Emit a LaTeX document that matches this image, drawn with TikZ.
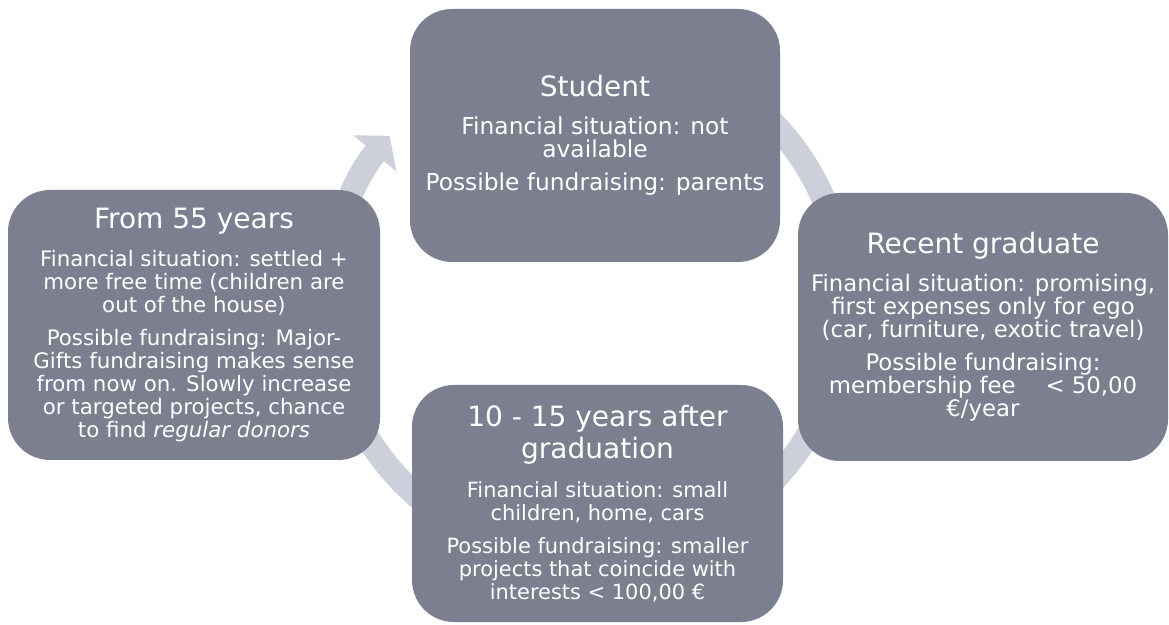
\documentclass[tikz,border=0pt]{standalone}
\usepackage{fontspec}
\setmainfont{DejaVu Sans}
\usetikzlibrary{arrows.meta}
\definecolor{boxgray}{RGB}{123,127,144}
\definecolor{ringgray}{RGB}{205,208,218}
\newcommand{\titlesize}{\fontsize{21}{24}\selectfont}
\newcommand{\bodysize}[1]{\fontsize{#1}{17.25}\selectfont\lineskiplimit=-20pt\lineskip=0pt}

\begin{document}
\begin{tikzpicture}[x=0.75pt,y=0.75pt,
	stage/.style={rectangle, rounded corners=31.5pt, fill=boxgray, text=white, align=center, inner sep=0pt},
	ring/.style={draw=ringgray, line width=18pt, -{Triangle[length=17.25pt, width=41.25pt]}}]
		\useasboundingbox (0,0) rectangle (1169,624);
		\coordinate (hub) at (587,322);
		
		\draw[ring] (hub) ++(60:258) arc[start angle=60, end angle=-220.1, radius=258];
		
		\node[stage, minimum width=277.5pt, minimum height=189.75pt, font=\bodysize{17.5}] (student) at (595,488.5)
		{{\titlesize Student}\\[11.5pt] Financial situation: not\\ available\\[7.5pt] Possible fundraising: parents};
		\node[stage, minimum width=277.5pt, minimum height=201pt, font=\bodysize{17.1}] (recent) at (983,297)
		{{\titlesize Recent graduate}\\[11.5pt] Financial situation: promising,\\ first expenses only for ego\\ (car, furniture, exotic travel)\\[7.5pt] Possible fundraising:\\ membership fee\hspace{17pt} < 50,00\\ €/year};
		\node[stage, minimum width=278.25pt, minimum height=177.75pt, font=\bodysize{15.7}] (grad) at (597.5,120.5)
		{{\titlesize 10 - 15 years after}\\[6.75pt] {\titlesize graduation}\\[11.5pt] Financial situation: small\\ children, home, cars\\[7.5pt] Possible fundraising: smaller\\ projects that coincide with\\ interests < 100,00 €};
		\node[stage, minimum width=279pt, minimum height=202.5pt, font=\bodysize{16}] (senior) at (194,299)
		{{\titlesize From 55 years}\\[11.5pt] Financial situation: settled +\\ more free time (children are\\ out of the house)\\[7.5pt] Possible fundraising: Major-\\ Gifts fundraising makes sense\\ from now on. Slowly increase\\ or targeted projects, chance\\ to find \textit{regular donors}};
	\end{tikzpicture}
\end{document}
